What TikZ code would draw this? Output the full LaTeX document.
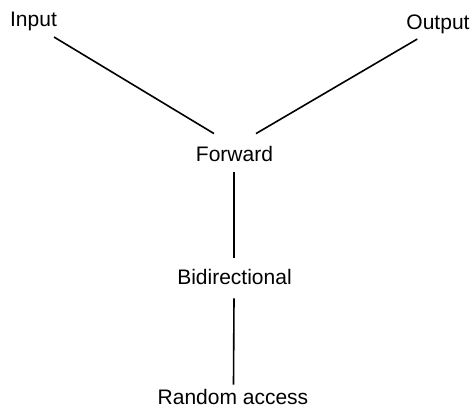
\documentclass[tikz,border=0pt]{standalone}
\usepackage{fontspec}
\setmainfont{Liberation Sans}
\begin{document}
\begin{tikzpicture}[x=1pt,y=1pt,
  lbl/.style={inner sep=0pt,anchor=base,font=\fontsize{21}{25}\selectfont},
  conn/.style={line width=1.6pt}]
\useasboundingbox (0,0) rectangle (472,410);
\node[lbl] (in) at (33.5,383.5) {Input};
\node[lbl] (out) at (438,380.5) {Output};
\node[lbl] (fw) at (234.5,248) {Forward};
\node[lbl] (bi) at (234.5,125) {Bidirectional};
\node[lbl] (ra) at (233,5) {Random access};
\draw[conn] ([shift={(-3,-6)}]in.south east) -- ([shift={(-20.5,13)}]fw.north);
\draw[conn] ([shift={(11,-5)}]out.south west) -- ([shift={(21.5,13)}]fw.north);
\draw[conn] ([shift={(-0.5,-10)}]fw.south) -- ([shift={(-0.5,12)}]bi.north);
\draw[conn] ([shift={(-0.5,-13)}]bi.south) -- ([shift={(0.5,5)}]ra.north);
\end{tikzpicture}
\end{document}
